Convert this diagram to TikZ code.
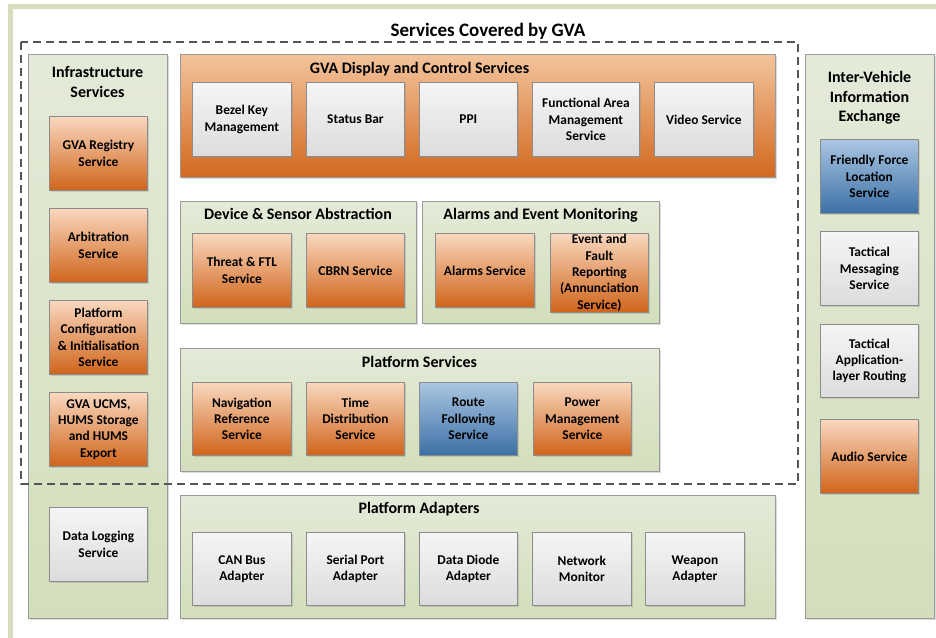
\documentclass[tikz,border=0pt]{standalone}
\usepackage{fontspec}
\setmainfont{Carlito}
\usetikzlibrary{shadows}

\definecolor{frameg}{RGB}{214,222,190}
\definecolor{grpline}{RGB}{155,155,155}
\definecolor{boxline}{RGB}{140,140,140}
\definecolor{greentop}{RGB}{228,234,216}
\definecolor{greenbot}{RGB}{210,222,187}
\definecolor{orangetop}{RGB}{249,216,191}
\definecolor{orangebot}{RGB}{208,100,26}
\definecolor{disptop}{RGB}{243,196,157}
\definecolor{dispbot}{RGB}{210,104,30}
\definecolor{greytop}{RGB}{245,245,245}
\definecolor{greybot}{RGB}{220,220,220}
\definecolor{bluetop}{RGB}{170,198,226}
\definecolor{bluebot}{RGB}{60,112,165}
\definecolor{dashg}{RGB}{85,85,85}

\tikzset{
  shade/.style={drop shadow={shadow xshift=1.5pt,shadow yshift=-1.5pt,opacity=.3,fill=black!45}},
  grp/.style={shade,draw=grpline,line width=0.8pt,anchor=north west,inner sep=0pt,
    top color=greentop,bottom color=greenbot},
  grptitle/.style={align=center,inner sep=0pt,font=\fontsize{16}{19.5}\selectfont\bfseries},
  svc/.style={shade,draw=boxline,line width=0.8pt,anchor=north west,inner sep=1pt,
    minimum width=98pt,minimum height=74pt,align=center,
    font=\fontsize{13.4}{16.3}\selectfont\bfseries},
  orangebox/.style={svc,top color=orangetop,bottom color=orangebot},
  greybox/.style={svc,top color=greytop,bottom color=greybot},
  bluebox/.style={svc,top color=bluetop,bottom color=bluebot}
}

\begin{document}
\begin{tikzpicture}[x=1pt,y=-1pt]
  \useasboundingbox (0,0) rectangle (936,637);
  \clip (0,0) rectangle (936,637);

  % Рамка
  \draw[frameg,line width=5pt] (10,6) rectangle (960,660);
  \node[font=\fontsize{19}{22}\selectfont\bfseries] (title) at (488,31) {Services Covered by GVA};

  % Левая колонка
  \node[grp,minimum width=139pt,minimum height=564pt] (infra) at (28,54) {};
  \node[grptitle] (infratitle) at (97.5,82) {Infrastructure\\Services};
  \node[orangebox] (registry) at (49,116) {GVA Registry\\Service};
  \node[orangebox] (arbit) at (49,208) {Arbitration\\Service};
  \node[orangebox] (config) at (49,300) {Platform\\Configuration\\\& Initialisation\\Service};
  \node[orangebox] (ucms) at (49,392) {GVA UCMS,\\HUMS Storage\\and HUMS\\Export};
  \node[greybox] (logging) at (49,507) {Data Logging\\Service};

  % Отображение и управление
  \node[grp,top color=disptop,bottom color=dispbot,minimum width=595pt,minimum height=123pt] (display) at (180,54) {};
  \node[grptitle] (displaytitle) at (419.5,69) {GVA Display and Control Services};
  \node[greybox,minimum width=99pt] (bezel) at (192,82) {Bezel Key\\Management};
  \node[greybox] (status) at (306,82) {Status Bar};
  \node[greybox] (ppi) at (419,82) {PPI};
  \node[greybox,minimum width=107pt] (farea) at (532,82) {Functional Area\\Management\\Service};
  \node[greybox,minimum width=99pt] (video) at (654,82) {Video Service};

  % Устройства и датчики
  \node[grp,minimum width=236pt,minimum height=122pt] (device) at (180,201) {};
  \node[grptitle] (devicetitle) at (298,214) {Device \& Sensor Abstraction};
  \node[orangebox,minimum width=99pt] (threat) at (192,233) {Threat \& FTL\\Service};
  \node[orangebox] (cbrn) at (306,233) {CBRN Service};

  % Тревоги
  \node[grp,minimum width=237pt,minimum height=122pt] (alarms) at (422,201) {};
  \node[grptitle] (alarmstitle) at (540.5,215) {Alarms and Event Monitoring};
  \node[orangebox,minimum width=99pt] (alarmsvc) at (435,233) {Alarms Service};
  \node[orangebox,minimum height=71pt] (fault) at (550,233) {Event and\\Fault\\Reporting\\(Annunciation\\Service)};

  % Сервисы платформы
  \node[grp,minimum width=479pt,minimum height=123pt] (platform) at (180,348) {};
  \node[grptitle] (platformtitle) at (419.5,362) {Platform Services};
  \node[orangebox,minimum width=99pt,minimum height=73pt] (nav) at (192,382) {Navigation\\Reference\\Service};
  \node[orangebox,minimum height=73pt] (timedist) at (306,382) {Time\\Distribution\\Service};
  \node[bluebox,minimum height=73pt] (route) at (419,382) {Route\\Following\\Service};
  \node[orangebox,minimum height=73pt] (power) at (533,382) {Power\\Management\\Service};

  % Адаптеры
  \node[grp,minimum width=595pt,minimum height=123pt] (adapters) at (180,495) {};
  \node[grptitle] (adapterstitle) at (419,509) {Platform Adapters};
  \node[greybox,minimum width=99pt,minimum height=73pt] (canbus) at (192,532) {CAN Bus\\Adapter};
  \node[greybox,minimum height=73pt] (serial) at (306,532) {Serial Port\\Adapter};
  \node[greybox,minimum height=73pt] (diode) at (419,532) {Data Diode\\Adapter};
  \node[greybox,minimum width=99pt,minimum height=73pt] (netmon) at (532,532) {Network\\Monitor};
  \node[greybox,minimum width=99pt,minimum height=73pt] (weapon) at (645,532) {Weapon\\Adapter};

  % Правая колонка
  \node[grp,minimum width=129pt,minimum height=564pt] (intervehicle) at (805,54) {};
  \node[grptitle] (intertitle) at (869.5,98) {Inter-Vehicle\\Information\\Exchange};
  \node[bluebox] (friendly) at (820,139) {Friendly Force\\Location\\Service};
  \node[greybox] (messaging) at (820,231) {Tactical\\Messaging\\Service};
  \node[greybox,minimum height=73pt] (routing) at (820,324) {Tactical\\Application-\\layer Routing};
  \node[orangebox] (audio) at (820,419) {Audio Service};

  % Пунктирная граница
  \draw[dashg,line width=1.2pt,dash pattern=on 8pt off 5pt] (21,42) rectangle (798,484);
\end{tikzpicture}
\end{document}
